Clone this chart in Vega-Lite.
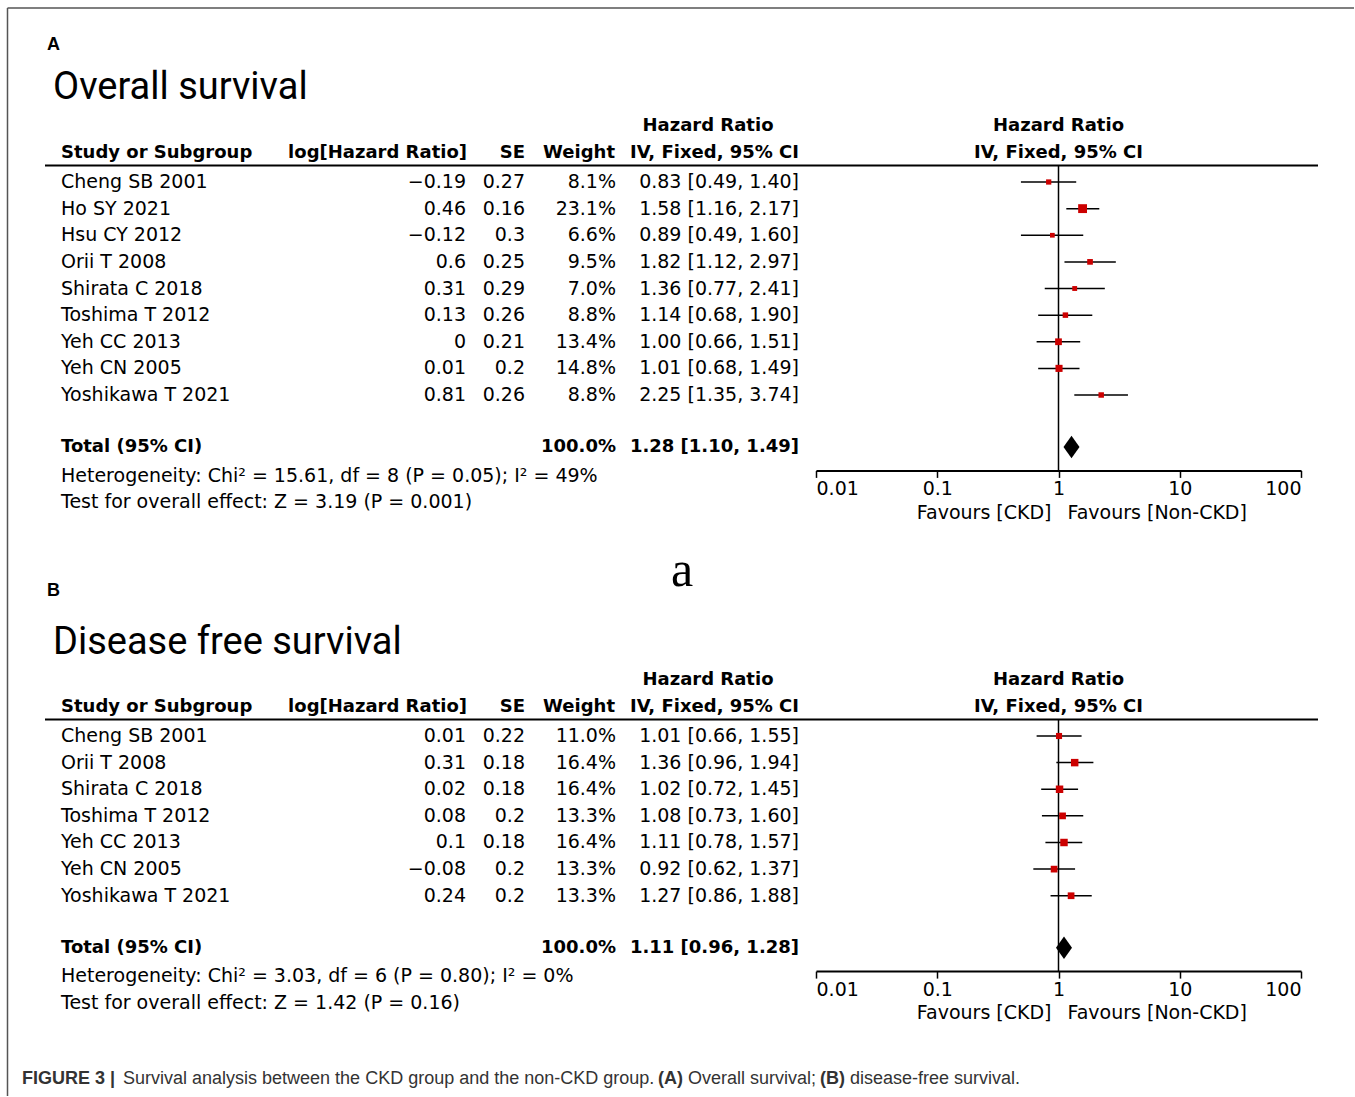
{
"$schema":"https://vega.github.io/schema/vega-lite/v6.json",
"width":1355,"height":1097,
"autosize":{"type":"fit","contains":"padding"},
"padding":0,
"background":"white",
"config":{"view":{"stroke":null},"text":{"font":"DejaVu Sans","fontSize":19,"color":"#000"}},
"data":{"values":[{}]},
"datasets":{
"studiesA":[
{"study":"Cheng SB 2001","row":1,"loghr":-0.19,"se":0.27,"weight":0.081,"hr":0.83,"lo":0.49,"hi":1.40,"ci":"0.83 [0.49, 1.40]"},
{"study":"Ho SY 2021","row":2,"loghr":0.46,"se":0.16,"weight":0.231,"hr":1.58,"lo":1.16,"hi":2.17,"ci":"1.58 [1.16, 2.17]"},
{"study":"Hsu CY 2012","row":3,"loghr":-0.12,"se":0.3,"weight":0.066,"hr":0.89,"lo":0.49,"hi":1.60,"ci":"0.89 [0.49, 1.60]"},
{"study":"Orii T 2008","row":4,"loghr":0.6,"se":0.25,"weight":0.095,"hr":1.82,"lo":1.12,"hi":2.97,"ci":"1.82 [1.12, 2.97]"},
{"study":"Shirata C 2018","row":5,"loghr":0.31,"se":0.29,"weight":0.07,"hr":1.36,"lo":0.77,"hi":2.41,"ci":"1.36 [0.77, 2.41]"},
{"study":"Toshima T 2012","row":6,"loghr":0.13,"se":0.26,"weight":0.088,"hr":1.14,"lo":0.68,"hi":1.90,"ci":"1.14 [0.68, 1.90]"},
{"study":"Yeh CC 2013","row":7,"loghr":0,"se":0.21,"weight":0.134,"hr":1.00,"lo":0.66,"hi":1.51,"ci":"1.00 [0.66, 1.51]"},
{"study":"Yeh CN 2005","row":8,"loghr":0.01,"se":0.2,"weight":0.148,"hr":1.01,"lo":0.68,"hi":1.49,"ci":"1.01 [0.68, 1.49]"},
{"study":"Yoshikawa T 2021","row":9,"loghr":0.81,"se":0.26,"weight":0.088,"hr":2.25,"lo":1.35,"hi":3.74,"ci":"2.25 [1.35, 3.74]"}
],
"totalA":[
{"study":"Total (95% CI)","weight":1.0,"hr":1.28,"lo":1.10,"hi":1.49,"ci":"1.28 [1.10, 1.49]","het":"Heterogeneity: Chi² = 15.61, df = 8 (P = 0.05); I² = 49%","ztest":"Test for overall effect: Z = 3.19 (P = 0.001)"}
],
"studiesB":[
{"study":"Cheng SB 2001","row":1,"loghr":0.01,"se":0.22,"weight":0.11,"hr":1.01,"lo":0.66,"hi":1.55,"ci":"1.01 [0.66, 1.55]"},
{"study":"Orii T 2008","row":2,"loghr":0.31,"se":0.18,"weight":0.164,"hr":1.36,"lo":0.96,"hi":1.94,"ci":"1.36 [0.96, 1.94]"},
{"study":"Shirata C 2018","row":3,"loghr":0.02,"se":0.18,"weight":0.164,"hr":1.02,"lo":0.72,"hi":1.45,"ci":"1.02 [0.72, 1.45]"},
{"study":"Toshima T 2012","row":4,"loghr":0.08,"se":0.2,"weight":0.133,"hr":1.08,"lo":0.73,"hi":1.60,"ci":"1.08 [0.73, 1.60]"},
{"study":"Yeh CC 2013","row":5,"loghr":0.1,"se":0.18,"weight":0.164,"hr":1.11,"lo":0.78,"hi":1.57,"ci":"1.11 [0.78, 1.57]"},
{"study":"Yeh CN 2005","row":6,"loghr":-0.08,"se":0.2,"weight":0.133,"hr":0.92,"lo":0.62,"hi":1.37,"ci":"0.92 [0.62, 1.37]"},
{"study":"Yoshikawa T 2021","row":7,"loghr":0.24,"se":0.2,"weight":0.133,"hr":1.27,"lo":0.86,"hi":1.88,"ci":"1.27 [0.86, 1.88]"}
],
"totalB":[
{"study":"Total (95% CI)","weight":1.0,"hr":1.11,"lo":0.96,"hi":1.28,"ci":"1.11 [0.96, 1.28]","het":"Heterogeneity: Chi² = 3.03, df = 6 (P = 0.80); I² = 0%","ztest":"Test for overall effect: Z = 1.42 (P = 0.16)"}
]
},
"resolve":{"scale":{"x":"independent","y":"independent","size":"independent"},"axis":{"x":"independent","y":"independent"}},
"layer":[
{"layer":[
{"mark":{"type":"rule","stroke":"#555","strokeWidth":1.5},"encoding":{"x":{"datum":7.5,"type":"quantitative","scale":{"domain":[0,1355],"nice":false,"zero":false},"axis":null},"x2":{"datum":1354},"y":{"datum":8,"type":"quantitative","scale":{"domain":[0,1097],"nice":false,"zero":false,"reverse":true},"axis":null}}},
{"mark":{"type":"rule","stroke":"#555","strokeWidth":1.5},"encoding":{"x":{"datum":7.5,"type":"quantitative","scale":{"domain":[0,1355],"nice":false,"zero":false},"axis":null},"y":{"datum":8,"type":"quantitative","scale":{"domain":[0,1097],"nice":false,"zero":false,"reverse":true},"axis":null},"y2":{"datum":1096}}},
{"mark":{"type":"text","text":"A","font":"Liberation Sans","fontWeight":"bold","fontSize":18,"align":"left","baseline":"middle"},"encoding":{"x":{"datum":47,"type":"quantitative","scale":{"domain":[0,1355],"nice":false,"zero":false},"axis":null},"y":{"datum":45,"type":"quantitative","scale":{"domain":[0,1097],"nice":false,"zero":false,"reverse":true},"axis":null}}},
{"mark":{"type":"text","text":"Overall survival","font":"Roboto","fontSize":38,"align":"left","baseline":"middle"},"encoding":{"x":{"datum":53,"type":"quantitative","scale":{"domain":[0,1355],"nice":false,"zero":false},"axis":null},"y":{"datum":88,"type":"quantitative","scale":{"domain":[0,1097],"nice":false,"zero":false,"reverse":true},"axis":null}}},
{"mark":{"type":"text","text":"a","font":"Liberation Serif","fontSize":50,"align":"center","baseline":"middle"},"encoding":{"x":{"datum":682,"type":"quantitative","scale":{"domain":[0,1355],"nice":false,"zero":false},"axis":null},"y":{"datum":571,"type":"quantitative","scale":{"domain":[0,1097],"nice":false,"zero":false,"reverse":true},"axis":null}}},
{"mark":{"type":"text","text":"B","font":"Liberation Sans","fontWeight":"bold","fontSize":18,"align":"left","baseline":"middle"},"encoding":{"x":{"datum":47,"type":"quantitative","scale":{"domain":[0,1355],"nice":false,"zero":false},"axis":null},"y":{"datum":591,"type":"quantitative","scale":{"domain":[0,1097],"nice":false,"zero":false,"reverse":true},"axis":null}}},
{"mark":{"type":"text","text":"Disease free survival","font":"Roboto","fontSize":38,"align":"left","baseline":"middle"},"encoding":{"x":{"datum":53,"type":"quantitative","scale":{"domain":[0,1355],"nice":false,"zero":false},"axis":null},"y":{"datum":643,"type":"quantitative","scale":{"domain":[0,1097],"nice":false,"zero":false,"reverse":true},"axis":null}}},
{"mark":{"type":"text","text":"FIGURE 3 |","font":"Liberation Sans","fontWeight":"bold","fontSize":18,"color":"#333","align":"left","baseline":"middle"},"encoding":{"x":{"datum":22,"type":"quantitative","scale":{"domain":[0,1355],"nice":false,"zero":false},"axis":null},"y":{"datum":1079,"type":"quantitative","scale":{"domain":[0,1097],"nice":false,"zero":false,"reverse":true},"axis":null}}},
{"mark":{"type":"text","text":"Survival analysis between the CKD group and the non-CKD group.","font":"Liberation Sans","fontSize":18,"color":"#333","align":"left","baseline":"middle"},"encoding":{"x":{"datum":123,"type":"quantitative","scale":{"domain":[0,1355],"nice":false,"zero":false},"axis":null},"y":{"datum":1079,"type":"quantitative","scale":{"domain":[0,1097],"nice":false,"zero":false,"reverse":true},"axis":null}}},
{"mark":{"type":"text","text":"(A)","font":"Liberation Sans","fontWeight":"bold","fontSize":18,"color":"#333","align":"left","baseline":"middle"},"encoding":{"x":{"datum":658,"type":"quantitative","scale":{"domain":[0,1355],"nice":false,"zero":false},"axis":null},"y":{"datum":1079,"type":"quantitative","scale":{"domain":[0,1097],"nice":false,"zero":false,"reverse":true},"axis":null}}},
{"mark":{"type":"text","text":"Overall survival;","font":"Liberation Sans","fontSize":18,"color":"#333","align":"left","baseline":"middle"},"encoding":{"x":{"datum":688,"type":"quantitative","scale":{"domain":[0,1355],"nice":false,"zero":false},"axis":null},"y":{"datum":1079,"type":"quantitative","scale":{"domain":[0,1097],"nice":false,"zero":false,"reverse":true},"axis":null}}},
{"mark":{"type":"text","text":"(B)","font":"Liberation Sans","fontWeight":"bold","fontSize":18,"color":"#333","align":"left","baseline":"middle"},"encoding":{"x":{"datum":820,"type":"quantitative","scale":{"domain":[0,1355],"nice":false,"zero":false},"axis":null},"y":{"datum":1079,"type":"quantitative","scale":{"domain":[0,1097],"nice":false,"zero":false,"reverse":true},"axis":null}}},
{"mark":{"type":"text","text":"disease-free survival.","font":"Liberation Sans","fontSize":18,"color":"#333","align":"left","baseline":"middle"},"encoding":{"x":{"datum":850,"type":"quantitative","scale":{"domain":[0,1355],"nice":false,"zero":false},"axis":null},"y":{"datum":1079,"type":"quantitative","scale":{"domain":[0,1097],"nice":false,"zero":false,"reverse":true},"axis":null}}}
]},
{"layer":[
{"mark":{"type":"text","text":"Hazard Ratio","fontWeight":"bold","fontSize":18,"align":"center","baseline":"middle"},"encoding":{"x":{"datum":708,"type":"quantitative","scale":{"domain":[0,1355],"nice":false,"zero":false},"axis":null},"y":{"datum":-1.1,"type":"quantitative","scale":{"domain":[-5.8357,35.3662],"nice":false,"zero":false,"reverse":true},"axis":null}}},
{"mark":{"type":"text","text":"Study or Subgroup","fontWeight":"bold","fontSize":18,"align":"left","baseline":"middle"},"encoding":{"x":{"datum":61,"type":"quantitative","scale":{"domain":[0,1355],"nice":false,"zero":false},"axis":null},"y":{"datum":-0.08,"type":"quantitative","scale":{"domain":[-5.8357,35.3662],"nice":false,"zero":false,"reverse":true},"axis":null}}},
{"mark":{"type":"text","text":"log[Hazard Ratio]","fontWeight":"bold","fontSize":18,"align":"right","baseline":"middle"},"encoding":{"x":{"datum":467,"type":"quantitative","scale":{"domain":[0,1355],"nice":false,"zero":false},"axis":null},"y":{"datum":-0.08,"type":"quantitative","scale":{"domain":[-5.8357,35.3662],"nice":false,"zero":false,"reverse":true},"axis":null}}},
{"mark":{"type":"text","text":"SE","fontWeight":"bold","fontSize":18,"align":"right","baseline":"middle"},"encoding":{"x":{"datum":525,"type":"quantitative","scale":{"domain":[0,1355],"nice":false,"zero":false},"axis":null},"y":{"datum":-0.08,"type":"quantitative","scale":{"domain":[-5.8357,35.3662],"nice":false,"zero":false,"reverse":true},"axis":null}}},
{"mark":{"type":"text","text":"Weight","fontWeight":"bold","fontSize":18,"align":"right","baseline":"middle"},"encoding":{"x":{"datum":615,"type":"quantitative","scale":{"domain":[0,1355],"nice":false,"zero":false},"axis":null},"y":{"datum":-0.08,"type":"quantitative","scale":{"domain":[-5.8357,35.3662],"nice":false,"zero":false,"reverse":true},"axis":null}}},
{"mark":{"type":"text","text":"IV, Fixed, 95% CI","fontWeight":"bold","fontSize":18,"align":"right","baseline":"middle"},"encoding":{"x":{"datum":799,"type":"quantitative","scale":{"domain":[0,1355],"nice":false,"zero":false},"axis":null},"y":{"datum":-0.08,"type":"quantitative","scale":{"domain":[-5.8357,35.3662],"nice":false,"zero":false,"reverse":true},"axis":null}}},
{"mark":{"type":"rule","stroke":"#000","strokeWidth":2},"encoding":{"x":{"datum":45,"type":"quantitative","scale":{"domain":[0,1355],"nice":false,"zero":false},"axis":null},"x2":{"datum":1318},"y":{"datum":0.38,"type":"quantitative","scale":{"domain":[-5.8357,35.3662],"nice":false,"zero":false,"reverse":true},"axis":null}}},
{"data":{"name":"studiesA"},"mark":{"type":"text","align":"left","baseline":"middle"},"encoding":{"x":{"datum":61,"type":"quantitative","scale":{"domain":[0,1355],"nice":false,"zero":false},"axis":null},"y":{"field":"row","type":"quantitative","scale":{"domain":[-5.8357,35.3662],"nice":false,"zero":false,"reverse":true},"axis":null},"text":{"field":"study","type":"nominal"}}},
{"data":{"name":"studiesA"},"mark":{"type":"text","align":"right","baseline":"middle"},"encoding":{"x":{"datum":466,"type":"quantitative","scale":{"domain":[0,1355],"nice":false,"zero":false},"axis":null},"y":{"field":"row","type":"quantitative","scale":{"domain":[-5.8357,35.3662],"nice":false,"zero":false,"reverse":true},"axis":null},"text":{"field":"loghr","type":"quantitative","format":"~f"}}},
{"data":{"name":"studiesA"},"mark":{"type":"text","align":"right","baseline":"middle"},"encoding":{"x":{"datum":525,"type":"quantitative","scale":{"domain":[0,1355],"nice":false,"zero":false},"axis":null},"y":{"field":"row","type":"quantitative","scale":{"domain":[-5.8357,35.3662],"nice":false,"zero":false,"reverse":true},"axis":null},"text":{"field":"se","type":"quantitative","format":"~f"}}},
{"data":{"name":"studiesA"},"mark":{"type":"text","align":"right","baseline":"middle"},"encoding":{"x":{"datum":616,"type":"quantitative","scale":{"domain":[0,1355],"nice":false,"zero":false},"axis":null},"y":{"field":"row","type":"quantitative","scale":{"domain":[-5.8357,35.3662],"nice":false,"zero":false,"reverse":true},"axis":null},"text":{"field":"weight","type":"quantitative","format":".1%"}}},
{"data":{"name":"studiesA"},"mark":{"type":"text","align":"right","baseline":"middle"},"encoding":{"x":{"datum":799,"type":"quantitative","scale":{"domain":[0,1355],"nice":false,"zero":false},"axis":null},"y":{"field":"row","type":"quantitative","scale":{"domain":[-5.8357,35.3662],"nice":false,"zero":false,"reverse":true},"axis":null},"text":{"field":"ci","type":"nominal"}}},
{"data":{"name":"totalA"},"mark":{"type":"text","align":"left","baseline":"middle","fontWeight":"bold","fontSize":18},"encoding":{"x":{"datum":61,"type":"quantitative","scale":{"domain":[0,1355],"nice":false,"zero":false},"axis":null},"y":{"datum":10.955,"type":"quantitative","scale":{"domain":[-5.8357,35.3662],"nice":false,"zero":false,"reverse":true},"axis":null},"text":{"field":"study","type":"nominal"}}},
{"data":{"name":"totalA"},"mark":{"type":"text","align":"right","baseline":"middle","fontWeight":"bold","fontSize":18},"encoding":{"x":{"datum":616,"type":"quantitative","scale":{"domain":[0,1355],"nice":false,"zero":false},"axis":null},"y":{"datum":10.955,"type":"quantitative","scale":{"domain":[-5.8357,35.3662],"nice":false,"zero":false,"reverse":true},"axis":null},"text":{"field":"weight","type":"quantitative","format":".1%"}}},
{"data":{"name":"totalA"},"mark":{"type":"text","align":"right","baseline":"middle","fontWeight":"bold","fontSize":18},"encoding":{"x":{"datum":799,"type":"quantitative","scale":{"domain":[0,1355],"nice":false,"zero":false},"axis":null},"y":{"datum":10.955,"type":"quantitative","scale":{"domain":[-5.8357,35.3662],"nice":false,"zero":false,"reverse":true},"axis":null},"text":{"field":"ci","type":"nominal"}}},
{"data":{"name":"totalA"},"mark":{"type":"text","align":"left","baseline":"middle"},"encoding":{"x":{"datum":61,"type":"quantitative","scale":{"domain":[0,1355],"nice":false,"zero":false},"axis":null},"y":{"datum":12.03,"type":"quantitative","scale":{"domain":[-5.8357,35.3662],"nice":false,"zero":false,"reverse":true},"axis":null},"text":{"field":"het","type":"nominal"}}},
{"data":{"name":"totalA"},"mark":{"type":"text","align":"left","baseline":"middle"},"encoding":{"x":{"datum":61,"type":"quantitative","scale":{"domain":[0,1355],"nice":false,"zero":false},"axis":null},"y":{"datum":13.03,"type":"quantitative","scale":{"domain":[-5.8357,35.3662],"nice":false,"zero":false,"reverse":true},"axis":null},"text":{"field":"ztest","type":"nominal"}}}
]},
{"layer":[
{"mark":{"type":"rule","stroke":"#000","strokeWidth":1.5},"encoding":{"x":{"datum":1,"type":"quantitative","scale":{"type":"log","domain":[0.01,100],"range":[816,1301],"nice":false},"axis":{"orient":"bottom","offset":-626.6,"values":[0.01,0.1,1,10,100],"labelExpr":"datum.value + ''","labelFlush":true,"labelFont":"DejaVu Sans","labelFontSize":19,"labelColor":"#000","labelPadding":2,"tickSize":7,"tickWidth":1.5,"tickColor":"#000","domainColor":"#000","domainWidth":2,"grid":false,"title":null}},"y":{"datum":0.38,"type":"quantitative","scale":{"domain":[-5.8357,35.3662],"nice":false,"zero":false,"reverse":true},"axis":null},"y2":{"datum":11.83}}},
{"data":{"name":"studiesA"},"mark":{"type":"rule","stroke":"#000","strokeWidth":1.5},"encoding":{"x":{"field":"lo","type":"quantitative","scale":{"type":"log","domain":[0.01,100],"range":[816,1301],"nice":false},"axis":{"orient":"bottom","offset":-626.6,"values":[0.01,0.1,1,10,100],"labelExpr":"datum.value + ''","labelFlush":true,"labelFont":"DejaVu Sans","labelFontSize":19,"labelColor":"#000","labelPadding":2,"tickSize":7,"tickWidth":1.5,"tickColor":"#000","domainColor":"#000","domainWidth":2,"grid":false,"title":null}},"x2":{"field":"hi"},"y":{"field":"row","type":"quantitative","scale":{"domain":[-5.8357,35.3662],"nice":false,"zero":false,"reverse":true},"axis":null}}},
{"data":{"name":"studiesA"},"mark":{"type":"point","shape":"square","filled":true,"color":"#cc0000","opacity":1,"strokeWidth":0},"encoding":{"x":{"field":"hr","type":"quantitative","scale":{"type":"log","domain":[0.01,100],"range":[816,1301],"nice":false},"axis":{"orient":"bottom","offset":-626.6,"values":[0.01,0.1,1,10,100],"labelExpr":"datum.value + ''","labelFlush":true,"labelFont":"DejaVu Sans","labelFontSize":19,"labelColor":"#000","labelPadding":2,"tickSize":7,"tickWidth":1.5,"tickColor":"#000","domainColor":"#000","domainWidth":2,"grid":false,"title":null}},"y":{"field":"row","type":"quantitative","scale":{"domain":[-5.8357,35.3662],"nice":false,"zero":false,"reverse":true},"axis":null},"size":{"field":"weight","type":"quantitative","scale":{"domain":[0,1],"range":[0,340]},"legend":null}}},
{"data":{"name":"totalA"},"mark":{"type":"point","shape":"M-1,0L0,-1.4L1,0L0,1.4Z","filled":true,"color":"#000","opacity":1,"size":256,"strokeWidth":0},"encoding":{"x":{"field":"hr","type":"quantitative","scale":{"type":"log","domain":[0.01,100],"range":[816,1301],"nice":false},"axis":{"orient":"bottom","offset":-626.6,"values":[0.01,0.1,1,10,100],"labelExpr":"datum.value + ''","labelFlush":true,"labelFont":"DejaVu Sans","labelFontSize":19,"labelColor":"#000","labelPadding":2,"tickSize":7,"tickWidth":1.5,"tickColor":"#000","domainColor":"#000","domainWidth":2,"grid":false,"title":null}},"y":{"datum":10.955,"type":"quantitative","scale":{"domain":[-5.8357,35.3662],"nice":false,"zero":false,"reverse":true},"axis":null}}},
{"mark":{"type":"text","text":"Hazard Ratio","fontWeight":"bold","fontSize":18,"align":"center","baseline":"middle"},"encoding":{"x":{"datum":1,"type":"quantitative","scale":{"type":"log","domain":[0.01,100],"range":[816,1301],"nice":false},"axis":{"orient":"bottom","offset":-626.6,"values":[0.01,0.1,1,10,100],"labelExpr":"datum.value + ''","labelFlush":true,"labelFont":"DejaVu Sans","labelFontSize":19,"labelColor":"#000","labelPadding":2,"tickSize":7,"tickWidth":1.5,"tickColor":"#000","domainColor":"#000","domainWidth":2,"grid":false,"title":null}},"y":{"datum":-1.1,"type":"quantitative","scale":{"domain":[-5.8357,35.3662],"nice":false,"zero":false,"reverse":true},"axis":null}}},
{"mark":{"type":"text","text":"IV, Fixed, 95% CI","fontWeight":"bold","fontSize":18,"align":"center","baseline":"middle"},"encoding":{"x":{"datum":1,"type":"quantitative","scale":{"type":"log","domain":[0.01,100],"range":[816,1301],"nice":false},"axis":{"orient":"bottom","offset":-626.6,"values":[0.01,0.1,1,10,100],"labelExpr":"datum.value + ''","labelFlush":true,"labelFont":"DejaVu Sans","labelFontSize":19,"labelColor":"#000","labelPadding":2,"tickSize":7,"tickWidth":1.5,"tickColor":"#000","domainColor":"#000","domainWidth":2,"grid":false,"title":null}},"y":{"datum":-0.08,"type":"quantitative","scale":{"domain":[-5.8357,35.3662],"nice":false,"zero":false,"reverse":true},"axis":null}}},
{"mark":{"type":"text","text":"Favours [CKD]","align":"right","baseline":"middle","dx":-7},"encoding":{"x":{"datum":1,"type":"quantitative","scale":{"type":"log","domain":[0.01,100],"range":[816,1301],"nice":false},"axis":{"orient":"bottom","offset":-626.6,"values":[0.01,0.1,1,10,100],"labelExpr":"datum.value + ''","labelFlush":true,"labelFont":"DejaVu Sans","labelFontSize":19,"labelColor":"#000","labelPadding":2,"tickSize":7,"tickWidth":1.5,"tickColor":"#000","domainColor":"#000","domainWidth":2,"grid":false,"title":null}},"y":{"datum":13.42,"type":"quantitative","scale":{"domain":[-5.8357,35.3662],"nice":false,"zero":false,"reverse":true},"axis":null}}},
{"mark":{"type":"text","text":"Favours [Non-CKD]","align":"left","baseline":"middle","dx":9},"encoding":{"x":{"datum":1,"type":"quantitative","scale":{"type":"log","domain":[0.01,100],"range":[816,1301],"nice":false},"axis":{"orient":"bottom","offset":-626.6,"values":[0.01,0.1,1,10,100],"labelExpr":"datum.value + ''","labelFlush":true,"labelFont":"DejaVu Sans","labelFontSize":19,"labelColor":"#000","labelPadding":2,"tickSize":7,"tickWidth":1.5,"tickColor":"#000","domainColor":"#000","domainWidth":2,"grid":false,"title":null}},"y":{"datum":13.42,"type":"quantitative","scale":{"domain":[-5.8357,35.3662],"nice":false,"zero":false,"reverse":true},"axis":null}}}
]},
{"layer":[
{"mark":{"type":"text","text":"Hazard Ratio","fontWeight":"bold","fontSize":18,"align":"center","baseline":"middle"},"encoding":{"x":{"datum":708,"type":"quantitative","scale":{"domain":[0,1355],"nice":false,"zero":false},"axis":null},"y":{"datum":-1.1,"type":"quantitative","scale":{"domain":[-26.6432,14.5587],"nice":false,"zero":false,"reverse":true},"axis":null}}},
{"mark":{"type":"text","text":"Study or Subgroup","fontWeight":"bold","fontSize":18,"align":"left","baseline":"middle"},"encoding":{"x":{"datum":61,"type":"quantitative","scale":{"domain":[0,1355],"nice":false,"zero":false},"axis":null},"y":{"datum":-0.08,"type":"quantitative","scale":{"domain":[-26.6432,14.5587],"nice":false,"zero":false,"reverse":true},"axis":null}}},
{"mark":{"type":"text","text":"log[Hazard Ratio]","fontWeight":"bold","fontSize":18,"align":"right","baseline":"middle"},"encoding":{"x":{"datum":467,"type":"quantitative","scale":{"domain":[0,1355],"nice":false,"zero":false},"axis":null},"y":{"datum":-0.08,"type":"quantitative","scale":{"domain":[-26.6432,14.5587],"nice":false,"zero":false,"reverse":true},"axis":null}}},
{"mark":{"type":"text","text":"SE","fontWeight":"bold","fontSize":18,"align":"right","baseline":"middle"},"encoding":{"x":{"datum":525,"type":"quantitative","scale":{"domain":[0,1355],"nice":false,"zero":false},"axis":null},"y":{"datum":-0.08,"type":"quantitative","scale":{"domain":[-26.6432,14.5587],"nice":false,"zero":false,"reverse":true},"axis":null}}},
{"mark":{"type":"text","text":"Weight","fontWeight":"bold","fontSize":18,"align":"right","baseline":"middle"},"encoding":{"x":{"datum":615,"type":"quantitative","scale":{"domain":[0,1355],"nice":false,"zero":false},"axis":null},"y":{"datum":-0.08,"type":"quantitative","scale":{"domain":[-26.6432,14.5587],"nice":false,"zero":false,"reverse":true},"axis":null}}},
{"mark":{"type":"text","text":"IV, Fixed, 95% CI","fontWeight":"bold","fontSize":18,"align":"right","baseline":"middle"},"encoding":{"x":{"datum":799,"type":"quantitative","scale":{"domain":[0,1355],"nice":false,"zero":false},"axis":null},"y":{"datum":-0.08,"type":"quantitative","scale":{"domain":[-26.6432,14.5587],"nice":false,"zero":false,"reverse":true},"axis":null}}},
{"mark":{"type":"rule","stroke":"#000","strokeWidth":2},"encoding":{"x":{"datum":45,"type":"quantitative","scale":{"domain":[0,1355],"nice":false,"zero":false},"axis":null},"x2":{"datum":1318},"y":{"datum":0.38,"type":"quantitative","scale":{"domain":[-26.6432,14.5587],"nice":false,"zero":false,"reverse":true},"axis":null}}},
{"data":{"name":"studiesB"},"mark":{"type":"text","align":"left","baseline":"middle"},"encoding":{"x":{"datum":61,"type":"quantitative","scale":{"domain":[0,1355],"nice":false,"zero":false},"axis":null},"y":{"field":"row","type":"quantitative","scale":{"domain":[-26.6432,14.5587],"nice":false,"zero":false,"reverse":true},"axis":null},"text":{"field":"study","type":"nominal"}}},
{"data":{"name":"studiesB"},"mark":{"type":"text","align":"right","baseline":"middle"},"encoding":{"x":{"datum":466,"type":"quantitative","scale":{"domain":[0,1355],"nice":false,"zero":false},"axis":null},"y":{"field":"row","type":"quantitative","scale":{"domain":[-26.6432,14.5587],"nice":false,"zero":false,"reverse":true},"axis":null},"text":{"field":"loghr","type":"quantitative","format":"~f"}}},
{"data":{"name":"studiesB"},"mark":{"type":"text","align":"right","baseline":"middle"},"encoding":{"x":{"datum":525,"type":"quantitative","scale":{"domain":[0,1355],"nice":false,"zero":false},"axis":null},"y":{"field":"row","type":"quantitative","scale":{"domain":[-26.6432,14.5587],"nice":false,"zero":false,"reverse":true},"axis":null},"text":{"field":"se","type":"quantitative","format":"~f"}}},
{"data":{"name":"studiesB"},"mark":{"type":"text","align":"right","baseline":"middle"},"encoding":{"x":{"datum":616,"type":"quantitative","scale":{"domain":[0,1355],"nice":false,"zero":false},"axis":null},"y":{"field":"row","type":"quantitative","scale":{"domain":[-26.6432,14.5587],"nice":false,"zero":false,"reverse":true},"axis":null},"text":{"field":"weight","type":"quantitative","format":".1%"}}},
{"data":{"name":"studiesB"},"mark":{"type":"text","align":"right","baseline":"middle"},"encoding":{"x":{"datum":799,"type":"quantitative","scale":{"domain":[0,1355],"nice":false,"zero":false},"axis":null},"y":{"field":"row","type":"quantitative","scale":{"domain":[-26.6432,14.5587],"nice":false,"zero":false,"reverse":true},"axis":null},"text":{"field":"ci","type":"nominal"}}},
{"data":{"name":"totalB"},"mark":{"type":"text","align":"left","baseline":"middle","fontWeight":"bold","fontSize":18},"encoding":{"x":{"datum":61,"type":"quantitative","scale":{"domain":[0,1355],"nice":false,"zero":false},"axis":null},"y":{"datum":8.955,"type":"quantitative","scale":{"domain":[-26.6432,14.5587],"nice":false,"zero":false,"reverse":true},"axis":null},"text":{"field":"study","type":"nominal"}}},
{"data":{"name":"totalB"},"mark":{"type":"text","align":"right","baseline":"middle","fontWeight":"bold","fontSize":18},"encoding":{"x":{"datum":616,"type":"quantitative","scale":{"domain":[0,1355],"nice":false,"zero":false},"axis":null},"y":{"datum":8.955,"type":"quantitative","scale":{"domain":[-26.6432,14.5587],"nice":false,"zero":false,"reverse":true},"axis":null},"text":{"field":"weight","type":"quantitative","format":".1%"}}},
{"data":{"name":"totalB"},"mark":{"type":"text","align":"right","baseline":"middle","fontWeight":"bold","fontSize":18},"encoding":{"x":{"datum":799,"type":"quantitative","scale":{"domain":[0,1355],"nice":false,"zero":false},"axis":null},"y":{"datum":8.955,"type":"quantitative","scale":{"domain":[-26.6432,14.5587],"nice":false,"zero":false,"reverse":true},"axis":null},"text":{"field":"ci","type":"nominal"}}},
{"data":{"name":"totalB"},"mark":{"type":"text","align":"left","baseline":"middle"},"encoding":{"x":{"datum":61,"type":"quantitative","scale":{"domain":[0,1355],"nice":false,"zero":false},"axis":null},"y":{"datum":10.03,"type":"quantitative","scale":{"domain":[-26.6432,14.5587],"nice":false,"zero":false,"reverse":true},"axis":null},"text":{"field":"het","type":"nominal"}}},
{"data":{"name":"totalB"},"mark":{"type":"text","align":"left","baseline":"middle"},"encoding":{"x":{"datum":61,"type":"quantitative","scale":{"domain":[0,1355],"nice":false,"zero":false},"axis":null},"y":{"datum":11.03,"type":"quantitative","scale":{"domain":[-26.6432,14.5587],"nice":false,"zero":false,"reverse":true},"axis":null},"text":{"field":"ztest","type":"nominal"}}}
]},
{"layer":[
{"mark":{"type":"rule","stroke":"#000","strokeWidth":1.5},"encoding":{"x":{"datum":1,"type":"quantitative","scale":{"type":"log","domain":[0.01,100],"range":[816,1301],"nice":false},"axis":{"orient":"bottom","offset":-125.9,"values":[0.01,0.1,1,10,100],"labelExpr":"datum.value + ''","labelFlush":true,"labelFont":"DejaVu Sans","labelFontSize":19,"labelColor":"#000","labelPadding":2,"tickSize":7,"tickWidth":1.5,"tickColor":"#000","domainColor":"#000","domainWidth":2,"grid":false,"title":null}},"y":{"datum":0.38,"type":"quantitative","scale":{"domain":[-26.6432,14.5587],"nice":false,"zero":false,"reverse":true},"axis":null},"y2":{"datum":9.83}}},
{"data":{"name":"studiesB"},"mark":{"type":"rule","stroke":"#000","strokeWidth":1.5},"encoding":{"x":{"field":"lo","type":"quantitative","scale":{"type":"log","domain":[0.01,100],"range":[816,1301],"nice":false},"axis":{"orient":"bottom","offset":-125.9,"values":[0.01,0.1,1,10,100],"labelExpr":"datum.value + ''","labelFlush":true,"labelFont":"DejaVu Sans","labelFontSize":19,"labelColor":"#000","labelPadding":2,"tickSize":7,"tickWidth":1.5,"tickColor":"#000","domainColor":"#000","domainWidth":2,"grid":false,"title":null}},"x2":{"field":"hi"},"y":{"field":"row","type":"quantitative","scale":{"domain":[-26.6432,14.5587],"nice":false,"zero":false,"reverse":true},"axis":null}}},
{"data":{"name":"studiesB"},"mark":{"type":"point","shape":"square","filled":true,"color":"#cc0000","opacity":1,"strokeWidth":0},"encoding":{"x":{"field":"hr","type":"quantitative","scale":{"type":"log","domain":[0.01,100],"range":[816,1301],"nice":false},"axis":{"orient":"bottom","offset":-125.9,"values":[0.01,0.1,1,10,100],"labelExpr":"datum.value + ''","labelFlush":true,"labelFont":"DejaVu Sans","labelFontSize":19,"labelColor":"#000","labelPadding":2,"tickSize":7,"tickWidth":1.5,"tickColor":"#000","domainColor":"#000","domainWidth":2,"grid":false,"title":null}},"y":{"field":"row","type":"quantitative","scale":{"domain":[-26.6432,14.5587],"nice":false,"zero":false,"reverse":true},"axis":null},"size":{"field":"weight","type":"quantitative","scale":{"domain":[0,1],"range":[0,340]},"legend":null}}},
{"data":{"name":"totalB"},"mark":{"type":"point","shape":"M-1,0L0,-1.4L1,0L0,1.4Z","filled":true,"color":"#000","opacity":1,"size":256,"strokeWidth":0},"encoding":{"x":{"field":"hr","type":"quantitative","scale":{"type":"log","domain":[0.01,100],"range":[816,1301],"nice":false},"axis":{"orient":"bottom","offset":-125.9,"values":[0.01,0.1,1,10,100],"labelExpr":"datum.value + ''","labelFlush":true,"labelFont":"DejaVu Sans","labelFontSize":19,"labelColor":"#000","labelPadding":2,"tickSize":7,"tickWidth":1.5,"tickColor":"#000","domainColor":"#000","domainWidth":2,"grid":false,"title":null}},"y":{"datum":8.955,"type":"quantitative","scale":{"domain":[-26.6432,14.5587],"nice":false,"zero":false,"reverse":true},"axis":null}}},
{"mark":{"type":"text","text":"Hazard Ratio","fontWeight":"bold","fontSize":18,"align":"center","baseline":"middle"},"encoding":{"x":{"datum":1,"type":"quantitative","scale":{"type":"log","domain":[0.01,100],"range":[816,1301],"nice":false},"axis":{"orient":"bottom","offset":-125.9,"values":[0.01,0.1,1,10,100],"labelExpr":"datum.value + ''","labelFlush":true,"labelFont":"DejaVu Sans","labelFontSize":19,"labelColor":"#000","labelPadding":2,"tickSize":7,"tickWidth":1.5,"tickColor":"#000","domainColor":"#000","domainWidth":2,"grid":false,"title":null}},"y":{"datum":-1.1,"type":"quantitative","scale":{"domain":[-26.6432,14.5587],"nice":false,"zero":false,"reverse":true},"axis":null}}},
{"mark":{"type":"text","text":"IV, Fixed, 95% CI","fontWeight":"bold","fontSize":18,"align":"center","baseline":"middle"},"encoding":{"x":{"datum":1,"type":"quantitative","scale":{"type":"log","domain":[0.01,100],"range":[816,1301],"nice":false},"axis":{"orient":"bottom","offset":-125.9,"values":[0.01,0.1,1,10,100],"labelExpr":"datum.value + ''","labelFlush":true,"labelFont":"DejaVu Sans","labelFontSize":19,"labelColor":"#000","labelPadding":2,"tickSize":7,"tickWidth":1.5,"tickColor":"#000","domainColor":"#000","domainWidth":2,"grid":false,"title":null}},"y":{"datum":-0.08,"type":"quantitative","scale":{"domain":[-26.6432,14.5587],"nice":false,"zero":false,"reverse":true},"axis":null}}},
{"mark":{"type":"text","text":"Favours [CKD]","align":"right","baseline":"middle","dx":-7},"encoding":{"x":{"datum":1,"type":"quantitative","scale":{"type":"log","domain":[0.01,100],"range":[816,1301],"nice":false},"axis":{"orient":"bottom","offset":-125.9,"values":[0.01,0.1,1,10,100],"labelExpr":"datum.value + ''","labelFlush":true,"labelFont":"DejaVu Sans","labelFontSize":19,"labelColor":"#000","labelPadding":2,"tickSize":7,"tickWidth":1.5,"tickColor":"#000","domainColor":"#000","domainWidth":2,"grid":false,"title":null}},"y":{"datum":11.42,"type":"quantitative","scale":{"domain":[-26.6432,14.5587],"nice":false,"zero":false,"reverse":true},"axis":null}}},
{"mark":{"type":"text","text":"Favours [Non-CKD]","align":"left","baseline":"middle","dx":9},"encoding":{"x":{"datum":1,"type":"quantitative","scale":{"type":"log","domain":[0.01,100],"range":[816,1301],"nice":false},"axis":{"orient":"bottom","offset":-125.9,"values":[0.01,0.1,1,10,100],"labelExpr":"datum.value + ''","labelFlush":true,"labelFont":"DejaVu Sans","labelFontSize":19,"labelColor":"#000","labelPadding":2,"tickSize":7,"tickWidth":1.5,"tickColor":"#000","domainColor":"#000","domainWidth":2,"grid":false,"title":null}},"y":{"datum":11.42,"type":"quantitative","scale":{"domain":[-26.6432,14.5587],"nice":false,"zero":false,"reverse":true},"axis":null}}}
]}
]
}
